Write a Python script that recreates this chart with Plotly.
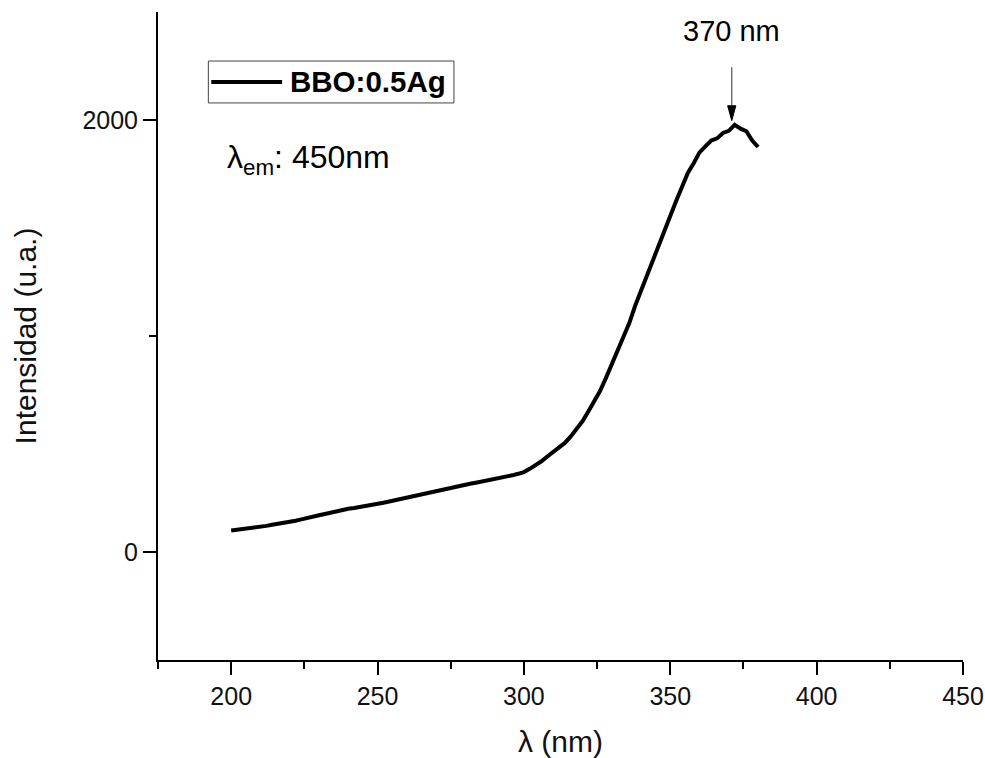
import plotly.graph_objects as go

# ---- data ----
wavelength = [200, 202, 204, 206, 208, 210, 212, 214, 216, 218,
              220, 222, 224, 226, 228, 230, 232, 234, 236, 238,
              240, 242, 244, 246, 248, 250, 252, 254, 256, 258,
              260, 262, 264, 266, 268, 270, 272, 274, 276, 278,
              280, 282, 284, 286, 288, 290, 292, 294, 296, 298,
              300, 302, 304, 306, 308, 310, 312, 314, 316, 318,
              320, 322, 324, 326, 328, 330, 332, 334, 336, 338,
              340, 342, 344, 346, 348, 350, 352, 354, 356, 358,
              360, 362, 364, 366, 368, 370, 372, 374, 376, 378, 380]
intensity = [100, 103, 106, 110, 113, 117, 121, 126, 130, 135,
             140, 145, 151, 156, 163, 170, 176, 183, 188, 194,
             200, 204, 208, 212, 217, 222, 228, 234, 240, 247,
             255, 261, 267, 273, 279, 285, 290, 296, 301, 306,
             312, 317, 322, 327, 333, 339, 344, 349, 355, 362,
             370, 385, 400, 420, 442, 462, 480, 505, 535, 568,
             605, 650, 698, 745, 805, 870, 930, 995, 1060, 1140,
             1210, 1285, 1355, 1425, 1490, 1555, 1625, 1690, 1755, 1800,
             1850, 1878, 1905, 1915, 1940, 1950, 1978, 1960, 1948, 1905, 1875]

series_name = "BBO:0.5Ag"
x_ticks = [200, 250, 300, 350, 400, 450]
y_ticks = [0, 2000]
peak_label = "370 nm"
peak_x, peak_y_tip, peak_y_base, peak_y_tail = 371, 1997, 2066, 2244
em_label = "λ<sub>em</sub>: 450nm"

FONT = "Liberation Sans, Arial, sans-serif"

fig = go.Figure()
fig.add_trace(go.Scatter(
    x=wavelength, y=intensity, mode="lines", name=series_name,
    line=dict(color="black", width=4), showlegend=False,
))

# legend (drawn to match the long sample line of the original)
fig.add_shape(type="rect", xref="x", yref="y", x0=192.2, x1=276.1, y0=2079, y1=2273,
              line=dict(color="#444", width=1), fillcolor="white")
fig.add_shape(type="line", xref="x", yref="y", x0=193.2, x1=217.4, y0=2176, y1=2176,
              line=dict(color="black", width=4))
fig.add_annotation(x=219.3, y=2176, xref="x", yref="y", text="<b>" + series_name + "</b>",
                   showarrow=False, xanchor="left", yanchor="middle",
                   font=dict(family=FONT, size=29.5, color="black"))

# excitation label
fig.add_annotation(x=198.0, y=1815, xref="x", yref="y", text=em_label,
                   showarrow=False, xanchor="left", yanchor="middle",
                   font=dict(family=FONT, size=32, color="black"))

# peak arrow: grey shaft + black head
fig.add_shape(type="line", xref="x", yref="y", x0=peak_x, x1=peak_x,
              y0=peak_y_tail, y1=peak_y_base, line=dict(color="#555", width=1.2))
fig.add_shape(type="path", xref="x", yref="y",
              path=f"M {peak_x - 1.4},{peak_y_base} L {peak_x + 1.4},{peak_y_base} L {peak_x},{peak_y_tip} Z",
              line=dict(color="black", width=1), fillcolor="black")
fig.add_annotation(x=peak_x, y=2410, xref="x", yref="y", text=peak_label,
                   showarrow=False, xanchor="center", yanchor="middle",
                   font=dict(family=FONT, size=29, color="black"))

axis_common = dict(
    showline=True, linecolor="black", linewidth=2, mirror=False,
    showgrid=False, zeroline=False, ticks="outside", ticklen=13, tickwidth=2,
    tickcolor="black", tickfont=dict(family=FONT, size=25, color="#111"),
)

fig.update_xaxes(
    range=[175, 450], tickvals=x_ticks,
    title=dict(text="λ (nm)", font=dict(family=FONT, size=30, color="#111"), standoff=22),
    minor=dict(ticks="outside", ticklen=7, tickwidth=2, tickcolor="black", dtick=25, tick0=175),
    **axis_common,
)
fig.update_yaxes(
    range=[-500, 2500], tickvals=y_ticks,
    title=dict(text="Intensidad (u.a.)", font=dict(family=FONT, size=30, color="#111"), standoff=37),
    minor=dict(ticks="outside", ticklen=7, tickwidth=2, tickcolor="black", tickvals=[1000]),
    **axis_common,
)

fig.update_layout(
    width=985, height=758,
    margin=dict(l=158, r=22, t=12, b=98, autoexpand=False),
    plot_bgcolor="white", paper_bgcolor="white",
    showlegend=False,
)

fig.write_html("out.html")
